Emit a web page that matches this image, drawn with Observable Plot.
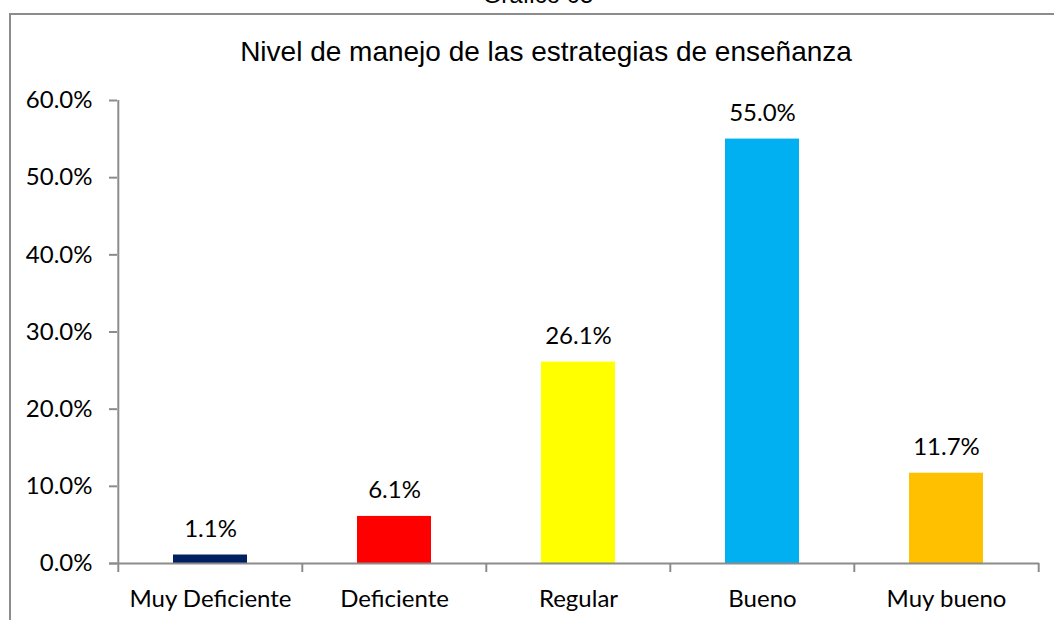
<!DOCTYPE html>
<html>
<head>
<meta charset="utf-8">
<script src="https://cdn.jsdelivr.net/npm/d3@7"></script>
<script src="https://cdn.jsdelivr.net/npm/@observablehq/plot@0.6"></script>
<style>
  html, body { margin: 0; padding: 0; background: #fff; }
  #wrap { position: relative; width: 1054px; height: 620px; overflow: hidden; background: #fff; }
  #frame { position: absolute; left: 9px; top: 13px; width: 1100px; height: 700px; border-left: 2px solid #8c8c8c; border-top: 2px solid #8c8c8c; box-sizing: border-box; }
  #sup { position: absolute; left: 0; width: 1076px; top: -19px; text-align: center; font: 24px "Liberation Sans", Arial, sans-serif; color: #000; }
  #title { position: absolute; left: 0; width: 1092px; top: 36px; text-align: center; font: 28px "Liberation Sans", Arial, sans-serif; color: #000; }
  #chart { position: absolute; left: 0; top: 0; }
</style>
</head>
<body>
<div id="wrap">
  <div id="frame"></div>
  <div id="sup">Gráfico 05</div>
  <div id="title">Nivel de manejo de las estrategias de enseñanza</div>
  <div id="chart"></div>
</div>
<script>
const categories = ["Muy Deficiente", "Deficiente", "Regular", "Bueno", "Muy bueno"];
const values = [0.011, 0.061, 0.261, 0.550, 0.117];
const colors = ["#002060", "#FF0000", "#FFFF00", "#00B0F0", "#FFC000"];
const yTicks = [0, 0.1, 0.2, 0.3, 0.4, 0.5, 0.6];

const data = categories.map((c, i) => ({category: c, value: values[i], color: colors[i]}));
const fmt = d3.format(".1%");

const W = 1054, H = 620;
const mL = 117, mR = 15, mT = 100, mB = 57;
const band = (W - mL - mR) / categories.length;
const axisColor = "#8c8c8c";

const chart = Plot.plot({
  width: W,
  height: H,
  marginLeft: mL,
  marginRight: mR,
  marginTop: mT,
  marginBottom: mB,
  style: {fontFamily: "Lato, 'Open Sans', sans-serif", fontSize: "24px", color: "#000", background: "transparent"},
  x: {domain: categories, paddingInner: 0.6, paddingOuter: 0.3},
  y: {domain: [0, 0.6]},
  marks: [
    Plot.barY(data, {x: "category", y: "value", fill: "color"}),
    Plot.text(data, {x: "category", y: "value", text: d => fmt(d.value), dy: -26, fill: "#000", fontSize: 24}),
    Plot.ruleX(categories.slice(0, 1), {x: d => d, y1: 0, y2: 0.6, dx: -band / 2, stroke: axisColor, strokeWidth: 2}),
    Plot.ruleY([0], {stroke: axisColor, strokeWidth: 2, insetLeft: -8}),
    Plot.ruleX(categories, {x: d => d, y1: 0, y2: 0, insetBottom: -9, dx: -band / 2, stroke: axisColor, strokeWidth: 2}),
    Plot.ruleX(categories.slice(-1), {x: d => d, y1: 0, y2: 0, insetBottom: -9, dx: band / 2, stroke: axisColor, strokeWidth: 2}),
    Plot.axisY({ticks: yTicks, tickFormat: fmt, tickSize: 8, tickPadding: 17, stroke: axisColor, strokeOpacity: 1, strokeWidth: 2, label: null, fontSize: 24}),
    Plot.axisX({tickSize: 0, tickPadding: 26, label: null, fontSize: 24})
  ]
});
document.getElementById("chart").appendChild(chart);
</script>
</body>
</html>
